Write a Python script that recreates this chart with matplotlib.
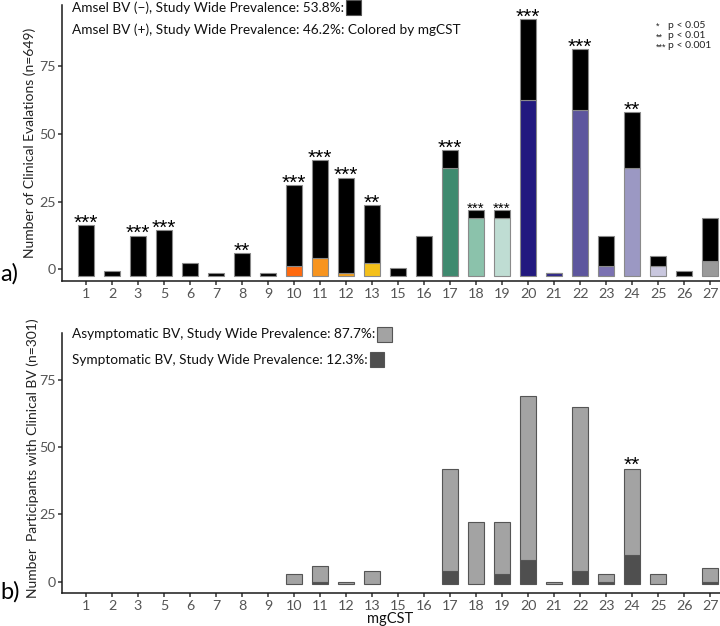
import matplotlib
matplotlib.use("Agg")
import matplotlib.pyplot as plt
from matplotlib.patches import Rectangle
import numpy as np

# ---------------- data ----------------
mgcst = ['1', '2', '3', '5', '6', '7', '8', '9', '10', '11', '12', '13', '15',
         '16', '17', '18', '19', '20', '21', '22', '23', '24', '25', '26', '27']
# panel a: clinical evaluations per mgCST (n=649)
total_evaluations = [20, 2, 16, 18, 5, 1, 9, 1, 36, 46, 39, 28, 3,
                     16, 50, 26, 26, 102, 1, 90, 16, 65, 8, 2, 23]
amsel_bv_pos = [0, 0, 0, 0, 0, 0, 0, 0, 4, 7, 1, 5, 0,
                0, 43, 23, 23, 70, 1, 66, 4, 43, 4, 0, 6]
sig_a = ['***', '', '***', '***', '', '', '**', '', '***', '***', '***', '**', '',
         '', '***', '***', '***', '***', '', '***', '', '**', '', '', '']
cst_colors = ['#000000', '#000000', '#000000', '#000000', '#000000', '#000000',
              '#000000', '#000000', '#FF6A0F', '#F7941E', '#F4A11D', '#F4C01A',
              '#000000', '#000000', '#3F8A6F', '#8BC2AB', '#BFDDD3', '#22197F',
              '#2C2587', '#5D569E', '#7B72B2', '#9B98C3', '#C9C7DE', '#000000',
              '#9A9A9A']
# panel b: participants with clinical BV (n=301)
asymptomatic = [0, 0, 0, 0, 0, 0, 0, 0, 4, 6, 1, 5, 0,
                0, 38, 23, 19, 61, 1, 61, 3, 32, 4, 0, 5]
symptomatic = [0, 0, 0, 0, 0, 0, 0, 0, 0, 1, 0, 0, 0,
               0, 5, 0, 4, 9, 0, 5, 1, 11, 0, 0, 1]
sig_b = [''] * 21 + ['**', '', '', '']
ytick_labels = [0, 25, 50, 75]

# ---------------- layout helpers ----------------
W, H = 720, 626
fig = plt.figure(figsize=(W / 100, H / 100), dpi=100)
TXT = ['Lato', 'DejaVu Sans']
STAR = ['Liberation Sans', 'DejaVu Sans']


def fx(px):
    return px / W


def fy(py):
    return 1 - py / H


ax_a = fig.add_axes([fx(62.3), fy(281), fx(720 - 62.3), (281 - 5) / H])
ax_b = fig.add_axes([fx(62.3), fy(593), fx(720 - 62.3), (593 - 332.7) / H])

x = np.arange(len(mgcst))
bw = 0.6
small_star = {'18', '19'}


def style_axes(ax, ylim, tick_pos):
    ax.set_xlim(-0.91, 24.38)
    ax.set_ylim(*ylim)
    for s in ['top', 'right']:
        ax.spines[s].set_visible(False)
    for s in ['left', 'bottom']:
        ax.spines[s].set_color('#1a1a1a')
        ax.spines[s].set_linewidth(1.1)
    ax.set_xticks(x)
    ax.set_xticklabels(mgcst)
    ax.set_yticks(tick_pos)
    ax.set_yticklabels([str(v) for v in ytick_labels])
    ax.tick_params(axis='both', length=3, width=1.1, color='#333333',
                   labelcolor='#555555', labelsize=10.3, pad=2)
    for lab in ax.get_xticklabels() + ax.get_yticklabels():
        lab.set_family(TXT)


# ---------------- panel a ----------------
pos = np.array(amsel_bv_pos)
neg = np.array(total_evaluations) - pos
m = pos > 0
ax_a.bar(x[m], pos[m], bw, color=np.array(cst_colors)[m],
         edgecolor='#8a8a8a', linewidth=0.8, zorder=2)
ax_a.bar(x, neg, bw, bottom=pos, color='black', edgecolor='#8a8a8a',
         linewidth=0.8, zorder=2)
for i, s in enumerate(sig_a):
    if s:
        small = mgcst[i] in small_star
        ax_a.annotate(s, (x[i], total_evaluations[i]), xytext=(0, -2.6 if not small else -1.8),
                      textcoords='offset points', ha='center', va='baseline',
                      fontsize=11 if small else 15, family=STAR, zorder=3)
style_axes(ax_a, (-2.1, 107.7), [2.55 + 1.078 * v for v in ytick_labels])

# ---------------- panel b ----------------
asym = np.array(asymptomatic)
sym = np.array(symptomatic)
mb = (asym + sym) > 0
ms = sym > 0
ax_b.bar(x[ms], sym[ms], bw, color='#4F4F4F', edgecolor='#555555',
         linewidth=0.8, zorder=2)
ax_b.bar(x[mb], asym[mb], bw, bottom=sym[mb], color='#A3A3A3',
         edgecolor='#555555', linewidth=0.8, zorder=2)
for i, s in enumerate(sig_b):
    if s:
        ax_b.annotate(s, (x[i], asym[i] + sym[i]), xytext=(0, -1.5),
                      textcoords='offset points', ha='center', va='baseline',
                      fontsize=15, family=STAR, zorder=3)
style_axes(ax_b, (-3.2, 93.5), [1.0 + v for v in ytick_labels])

# ---------------- texts ----------------
fig.canvas.draw()
renderer = fig.canvas.get_renderer()


def legend_line(px, py, text, sq_color, fs=9.8):
    t = fig.text(fx(px), fy(py), text, ha='left', va='center', fontsize=fs,
                 family=TXT, color='#111111')
    if sq_color is not None:
        bb = t.get_window_extent(renderer=renderer)
        sz = 14.5
        left = bb.x1 + 2
        cy = H - py
        fig.add_artist(Rectangle((left / W, (cy - sz / 2) / H), sz / W, sz / H,
                                 transform=fig.transFigure, facecolor=sq_color,
                                 edgecolor='#555555', linewidth=0.8))
    return t


legend_line(72, 7.5, 'Amsel BV (\u2212), Study Wide Prevalence: 53.8%:', '#000000')
legend_line(72, 29.5, 'Amsel BV (+), Study Wide Prevalence: 46.2%: Colored by mgCST', None)
legend_line(72, 334.5, 'Asymptomatic BV, Study Wide Prevalence: 87.7%:', '#A3A3A3')
legend_line(72, 359.5, 'Symptomatic BV, Study Wide Prevalence: 12.3%:', '#4F4F4F')

# p-value key
for j, (s, p) in enumerate([('*', 'p < 0.05'), ('**', 'p < 0.01'), ('***', 'p < 0.001')]):
    yy = 25 + 10.5 * j
    fig.text(fx(656), fy(yy + 1.5), s, ha='left', va='center', fontsize=6.6,
             family=STAR, color='#222222')
    fig.text(fx(668.5), fy(yy), p, ha='left', va='center', fontsize=7.5,
             family=TXT, color='#222222')

# axis labels
fig.text(fx(30), fy(143), 'Number of Clinical Evalations (n=649)', rotation=90,
         ha='center', va='center', fontsize=10, family=TXT, color='#222222')
fig.text(fx(33), fy(458), 'Number  Participants with Clinical BV (n=301)', rotation=90,
         ha='center', va='center', fontsize=10, family=TXT, color='#222222')
fig.text(fx(390), fy(619.5), 'mgCST', ha='center', va='center', fontsize=10.5,
         family=TXT, color='#111111')

# panel tags
fig.text(fx(0), fy(274), 'a)', ha='left', va='center', fontsize=17, family=TXT)
fig.text(fx(0), fy(592), 'b)', ha='left', va='center', fontsize=17, family=TXT)

fig.savefig('out.png', dpi=100)
